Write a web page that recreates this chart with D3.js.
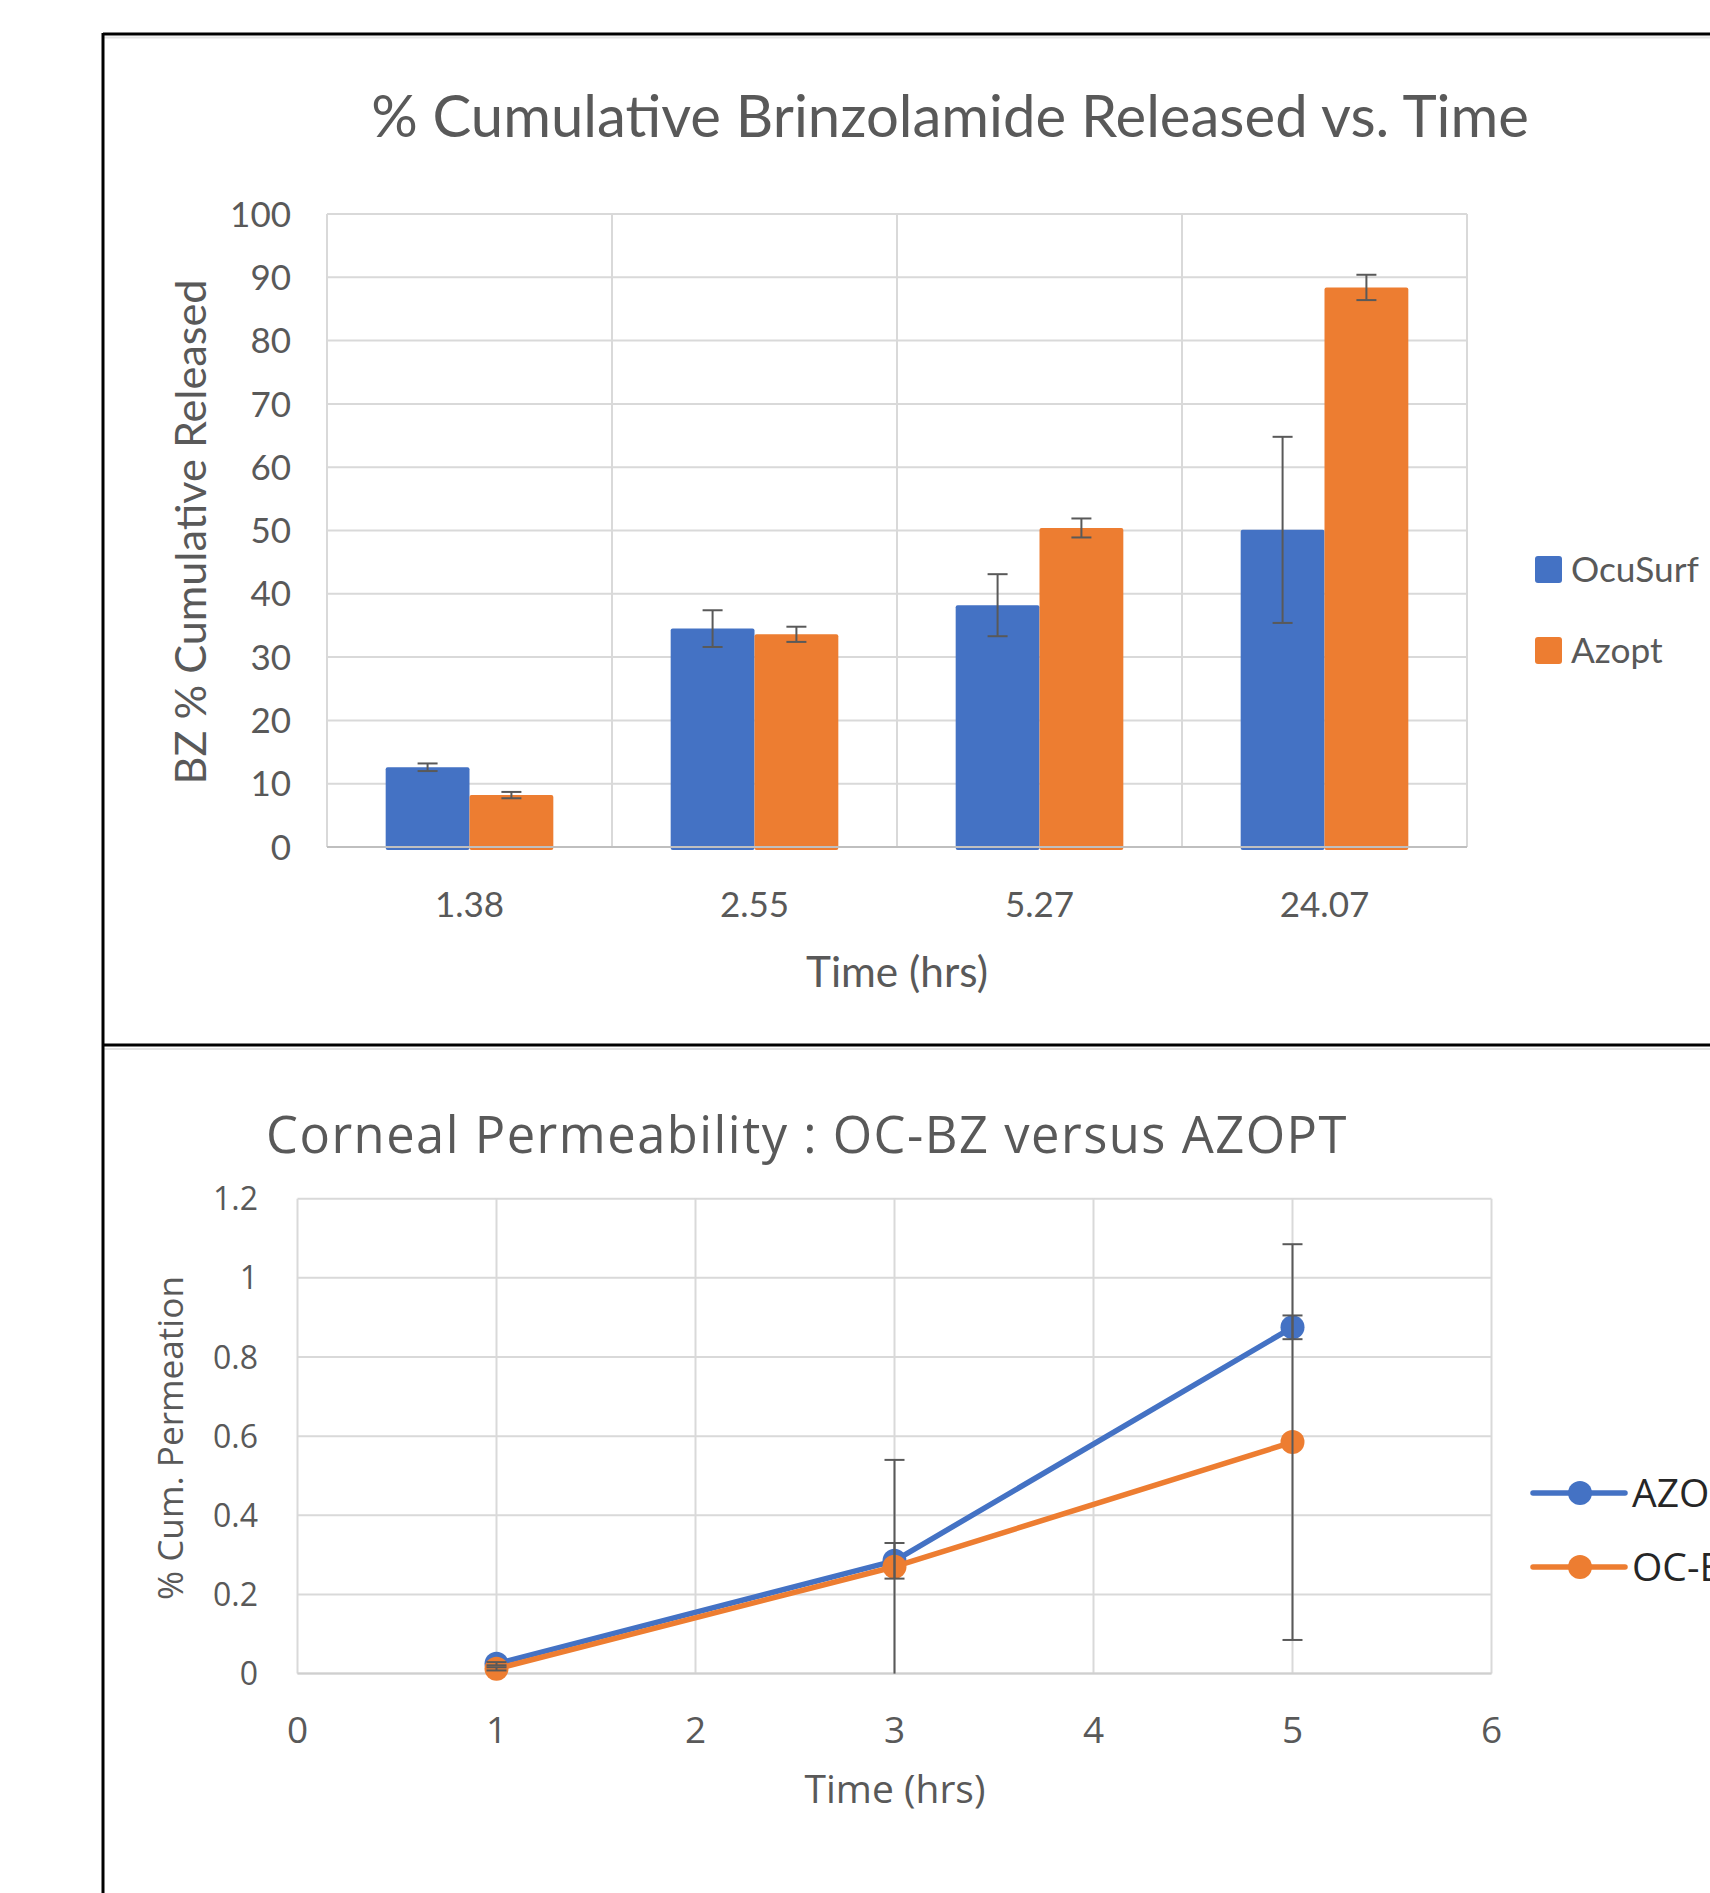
<!DOCTYPE html>
<html>
<head>
<meta charset="utf-8">
<script src="https://cdn.jsdelivr.net/npm/d3@7"></script>
<style>
  html, body { margin: 0; padding: 0; background: #fff; }
  svg { display: block; }
</style>
</head>
<body>
<svg id="chart" width="1710" height="1893"></svg>
<script>
// ---- top chart: release data
var barCategories = ["1.38", "2.55", "5.27", "24.07"];
var barSeries = ["OcuSurf", "Azopt"];
var ocusurfValues = [12.6, 34.5, 38.2, 50.1];
var ocusurfErrors = [0.6, 2.9, 4.9, 14.7];
var azoptValues = [8.2, 33.6, 50.4, 88.4];
var azoptErrors = [0.5, 1.2, 1.5, 2.0];
var barYTicks = [0, 10, 20, 30, 40, 50, 60, 70, 80, 90, 100];

// ---- bottom chart: permeation data
var permSeries = ["AZOPT", "OC-BZ"];
var permTimes = [1, 3, 5];
var azoptPerm = [0.025, 0.285, 0.875];
var azoptPermErr = [0.004, 0.045, 0.03];
var ocbzPerm = [0.012, 0.27, 0.585];
var ocbzPermErr = [0.004, 0.27, 0.5];
var permXTicks = [0, 1, 2, 3, 4, 5, 6];
var permYTicks = [0, 0.2, 0.4, 0.6, 0.8, 1, 1.2];

var blue = "#4472C4", orange = "#ED7D31", textCol = "#595959", gridCol = "#d9d9d9";
var topFont = "Lato, 'Open Sans', sans-serif";
var botFont = "'Open Sans', 'Noto Sans', sans-serif";

var svg = d3.select("#chart");

function fitWidth(sel, target) {
  var w = sel.node().getComputedTextLength();
  var fs = parseFloat(sel.attr("font-size"));
  sel.attr("font-size", fs * target / w);
}

// frames (screenshot borders)
svg.append("line").attr("x1", 103).attr("x2", 1710).attr("y1", 34).attr("y2", 34)
  .attr("stroke", "#000").attr("stroke-width", 3);
svg.append("line").attr("x1", 103).attr("x2", 1710).attr("y1", 37.5).attr("y2", 37.5)
  .attr("stroke", "#e4e4e4").attr("stroke-width", 2);
svg.append("line").attr("x1", 103).attr("x2", 1710).attr("y1", 1045).attr("y2", 1045)
  .attr("stroke", "#000").attr("stroke-width", 3);
svg.append("line").attr("x1", 103).attr("x2", 1710).attr("y1", 1049).attr("y2", 1049)
  .attr("stroke", "#e4e4e4").attr("stroke-width", 2);
svg.append("line").attr("x1", 103).attr("x2", 103).attr("y1", 33).attr("y2", 1893)
  .attr("stroke", "#000").attr("stroke-width", 3);

// ================= top chart =================
var gTop = svg.append("g");
var x0 = d3.scaleBand().domain(barCategories).range([327, 1467]).paddingInner(0).paddingOuter(0);
var x1 = d3.scaleBand().domain(barSeries).range([0, x0.bandwidth()]).paddingInner(0).paddingOuter(0.7);
var yBar = d3.scaleLinear().domain([0, 100]).range([847, 214]);

// horizontal grid
gTop.append("g").selectAll("line").data(barYTicks).enter().append("line")
  .attr("x1", 327).attr("x2", 1467)
  .attr("y1", function(d) { return yBar(d); }).attr("y2", function(d) { return yBar(d); })
  .attr("stroke", gridCol).attr("stroke-width", 2);
// vertical grid at category boundaries
var bounds = barCategories.map(function(c) { return x0(c); }).concat([x0.range()[1]]);
gTop.append("g").selectAll("line").data(bounds).enter().append("line")
  .attr("x1", function(d) { return d; }).attr("x2", function(d) { return d; })
  .attr("y1", yBar(100)).attr("y2", yBar(0))
  .attr("stroke", gridCol).attr("stroke-width", 2);

var barData = barCategories.map(function(c, i) {
  return [
    {cat: c, s: "OcuSurf", v: ocusurfValues[i], e: ocusurfErrors[i], col: blue},
    {cat: c, s: "Azopt", v: azoptValues[i], e: azoptErrors[i], col: orange}
  ];
});

var groups = gTop.append("g").selectAll("g").data(barData).enter().append("g")
  .attr("transform", function(d, i) { return "translate(" + x0(barCategories[i]) + ",0)"; });

groups.selectAll("rect").data(function(d) { return d; }).enter().append("rect")
  .attr("x", function(d) { return x1(d.s); })
  .attr("width", x1.bandwidth())
  .attr("y", function(d) { return yBar(d.v); })
  .attr("height", function(d) { return yBar(0) - yBar(d.v) + 3; })
  .attr("rx", 2)
  .attr("fill", function(d) { return d.col; });

// bottom axis line
gTop.append("line").attr("x1", 327).attr("x2", 1467).attr("y1", yBar(0)).attr("y2", yBar(0))
  .attr("stroke", "#bfbfbf").attr("stroke-width", 2);

// error bars
var eb = groups.selectAll("g.err").data(function(d) { return d; }).enter().append("g")
  .attr("class", "err")
  .attr("stroke", "#595959").attr("stroke-width", 2);
eb.append("line")
  .attr("x1", function(d) { return x1(d.s) + x1.bandwidth() / 2; })
  .attr("x2", function(d) { return x1(d.s) + x1.bandwidth() / 2; })
  .attr("y1", function(d) { return yBar(d.v + d.e); })
  .attr("y2", function(d) { return yBar(d.v - d.e); });
eb.selectAll("line.cap").data(function(d) { return [{d: d, v: d.v + d.e}, {d: d, v: d.v - d.e}]; })
  .enter().append("line").attr("class", "cap")
  .attr("x1", function(c) { return x1(c.d.s) + x1.bandwidth() / 2 - 10; })
  .attr("x2", function(c) { return x1(c.d.s) + x1.bandwidth() / 2 + 10; })
  .attr("y1", function(c) { return yBar(c.v); })
  .attr("y2", function(c) { return yBar(c.v); });

// y ticks
gTop.append("g").selectAll("text").data(barYTicks).enter().append("text")
  .attr("x", 291).attr("y", function(d) { return yBar(d); }).attr("dy", "0.36em")
  .attr("text-anchor", "end").attr("font-family", topFont).attr("font-size", 35)
  .attr("fill", textCol).text(function(d) { return d; });
// x ticks
gTop.append("g").selectAll("text").data(barCategories).enter().append("text")
  .attr("x", function(d) { return x0(d) + x0.bandwidth() / 2; }).attr("y", 917)
  .attr("text-anchor", "middle").attr("font-family", topFont).attr("font-size", 35)
  .attr("fill", textCol).text(function(d) { return d; });

var t1 = gTop.append("text").attr("x", 950).attr("y", 137).attr("text-anchor", "middle")
  .attr("font-family", topFont).attr("font-size", 56).attr("fill", textCol)
  .text("% Cumulative Brinzolamide Released vs. Time");
fitWidth(t1, 1158);

var tx1 = gTop.append("text").attr("x", 897).attr("y", 987).attr("text-anchor", "middle")
  .attr("font-family", topFont).attr("font-size", 38).attr("fill", textCol).text("Time (hrs)");
fitWidth(tx1, 182);

var ty1 = gTop.append("text").attr("transform", "translate(206,532) rotate(-90)")
  .attr("text-anchor", "middle").attr("font-family", topFont).attr("font-size", 40)
  .attr("fill", textCol).text("BZ % Cumulative Released");
fitWidth(ty1, 505);

// legend
var leg1 = gTop.append("g").selectAll("g").data(barSeries).enter().append("g")
  .attr("transform", function(d, i) { return "translate(1535," + (556 + i * 81) + ")"; });
leg1.append("rect").attr("width", 27).attr("height", 27).attr("rx", 3)
  .attr("fill", function(d, i) { return i === 0 ? blue : orange; });
var legTexts = leg1.append("text").attr("x", 36).attr("y", 13.5).attr("dy", "0.36em")
  .attr("font-family", topFont).attr("font-size", 36).attr("fill", textCol)
  .text(function(d) { return d; });
fitWidth(d3.select(legTexts.nodes()[0]), 128);
legTexts.attr("font-size", d3.select(legTexts.nodes()[0]).attr("font-size"));

// ================= bottom chart =================
var gBot = svg.append("g");
var xP = d3.scaleLinear().domain([0, 6]).range([297.5, 1491.5]);
var yP = d3.scaleLinear().domain([0, 1.2]).range([1673.6, 1198.7]);

gBot.append("g").selectAll("line").data(permYTicks).enter().append("line")
  .attr("x1", xP(0)).attr("x2", xP(6))
  .attr("y1", function(d) { return yP(d); }).attr("y2", function(d) { return yP(d); })
  .attr("stroke", gridCol).attr("stroke-width", 2);
gBot.append("g").selectAll("line").data(permXTicks).enter().append("line")
  .attr("x1", function(d) { return xP(d); }).attr("x2", function(d) { return xP(d); })
  .attr("y1", yP(1.2)).attr("y2", yP(0))
  .attr("stroke", gridCol).attr("stroke-width", 2);
gBot.append("line").attr("x1", xP(0)).attr("x2", xP(6)).attr("y1", yP(0)).attr("y2", yP(0))
  .attr("stroke", "#cfcfcf").attr("stroke-width", 2);

var permData = [
  {name: "AZOPT", col: blue, pts: permTimes.map(function(t, i) { return {x: t, y: azoptPerm[i], e: azoptPermErr[i]}; })},
  {name: "OC-BZ", col: orange, pts: permTimes.map(function(t, i) { return {x: t, y: ocbzPerm[i], e: ocbzPermErr[i]}; })}
];

var line = d3.line().x(function(d) { return xP(d.x); }).y(function(d) { return yP(d.y); });

permData.forEach(function(s) {
  gBot.append("path").datum(s.pts).attr("d", line)
    .attr("fill", "none").attr("stroke", s.col).attr("stroke-width", 5.5)
    .attr("stroke-linejoin", "round");
  gBot.append("g").selectAll("circle").data(s.pts).enter().append("circle")
    .attr("cx", function(d) { return xP(d.x); }).attr("cy", function(d) { return yP(d.y); })
    .attr("r", 12).attr("fill", s.col);
});

// error bars on top
permData.forEach(function(s) {
  var g = gBot.append("g").attr("stroke", "#595959").attr("stroke-width", 2);
  g.selectAll("line.v").data(s.pts).enter().append("line").attr("class", "v")
    .attr("x1", function(d) { return xP(d.x); }).attr("x2", function(d) { return xP(d.x); })
    .attr("y1", function(d) { return yP(Math.min(1.2, d.y + d.e)); })
    .attr("y2", function(d) { return yP(Math.max(0, d.y - d.e)); });
  var caps = [];
  s.pts.forEach(function(d) {
    caps.push({x: d.x, v: d.y + d.e});
    if (d.y - d.e > 0) caps.push({x: d.x, v: d.y - d.e});
  });
  g.selectAll("line.c").data(caps).enter().append("line").attr("class", "c")
    .attr("x1", function(d) { return xP(d.x) - 10; })
    .attr("x2", function(d) { return xP(d.x) + 10; })
    .attr("y1", function(d) { return yP(d.v); }).attr("y2", function(d) { return yP(d.v); });
});

gBot.append("g").selectAll("text").data(permYTicks).enter().append("text")
  .attr("x", 258).attr("y", function(d) { return yP(d); }).attr("dy", "0.36em")
  .attr("text-anchor", "end").attr("font-family", botFont).attr("font-size", 32)
  .attr("fill", textCol).text(function(d) { return d; });
gBot.append("g").selectAll("text").data(permXTicks).enter().append("text")
  .attr("x", function(d) { return xP(d); }).attr("y", 1743)
  .attr("text-anchor", "middle").attr("font-family", botFont).attr("font-size", 37)
  .attr("fill", textCol).text(function(d) { return d; });

var t2 = gBot.append("text").attr("x", 266).attr("y", 1153)
  .attr("font-family", botFont).attr("font-size", 50).attr("fill", textCol)
  .attr("letter-spacing", 1.5)
  .text("Corneal Permeability : OC-BZ versus AZOPT");
fitWidth(t2, 1083);

var tx2 = gBot.append("text").attr("x", 895).attr("y", 1803).attr("text-anchor", "middle")
  .attr("font-family", botFont).attr("font-size", 34).attr("fill", textCol).text("Time (hrs)");
fitWidth(tx2, 181);

var ty2 = gBot.append("text").attr("transform", "translate(183,1438) rotate(-90)")
  .attr("text-anchor", "middle").attr("font-family", botFont).attr("font-size", 32)
  .attr("fill", textCol).text("% Cum. Permeation");
fitWidth(ty2, 324);

var leg2 = gBot.append("g").selectAll("g").data(permSeries).enter().append("g")
  .attr("transform", function(d, i) { return "translate(1533," + (1493 + i * 74) + ")"; });
leg2.append("line").attr("x1", 0).attr("x2", 92)
  .attr("stroke", function(d, i) { return i === 0 ? blue : orange; })
  .attr("stroke-width", 5.5).attr("stroke-linecap", "round");
leg2.append("circle").attr("cx", 47).attr("r", 12)
  .attr("fill", function(d, i) { return i === 0 ? blue : orange; });
leg2.append("text").attr("x", 99).attr("dy", "0.36em")
  .attr("font-family", botFont).attr("font-size", 39).attr("fill", "#262626")
  .text(function(d) { return d; });
</script>
</body>
</html>
